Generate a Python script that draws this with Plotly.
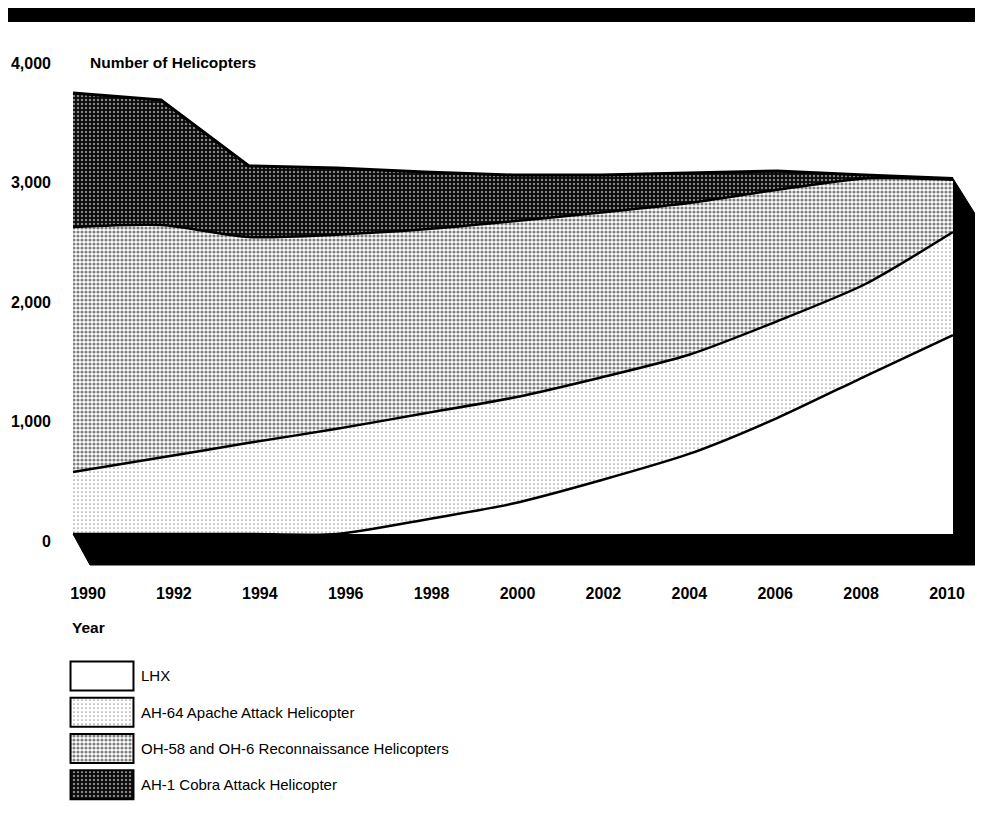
import plotly.graph_objects as go

# ---------------- data ----------------
years = [1990, 1992, 1994, 1996, 1998, 2000, 2002, 2004, 2006, 2008, 2010]
lhx = [0, 0, 0, 0, 120, 255, 450, 670, 970, 1320, 1665]
ah64 = [519, 640, 763, 880, 890, 885, 860, 830, 810, 770, 862]
oh58 = [2050, 1946, 1722, 1625, 1540, 1477, 1380, 1270, 1100, 885, 438]
ah1 = [1121, 1046, 595, 558, 479, 387, 314, 251, 158, 29, 10]

series_names = ["LHX", "AH-64 Apache Attack Helicopter",
                "OH-58 and OH-6 Reconnaissance Helicopters", "AH-1 Cobra Attack Helicopter"]
y_ticks = [0, 1000, 2000, 3000, 4000]
x_ticks = [1990, 1992, 1994, 1996, 1998, 2000, 2002, 2004, 2006, 2008, 2010]

# ---------------- geometry (page pixels of the 983x835 window) ----------------
W, H = 983, 835
OFF = 8                          # default body margin of the html page
X0_PX, X1_PX = 73, 953           # 1990 and 2010 positions of the data
ZERO_PX = 534                    # y pixel of value 0
PPU = 0.1195                     # pixels per unit (119.5 px per 1000)
PLOT_TOP_PX, PLOT_BOT_PX = 30, 620
ppy = (X1_PX - X0_PX) / (years[-1] - years[0])

def py(px):  # page pixel y -> paper y
    return 1 - (px - OFF) / H

def pxx(px):  # page pixel x -> paper x
    return (px - OFF) / W

x_range = [years[0] - (X0_PX - OFF) / ppy, years[0] + (W + OFF - X0_PX) / ppy]
y_range = [-(PLOT_BOT_PX - ZERO_PX) / PPU, (ZERO_PX - PLOT_TOP_PX) / PPU]

# tick label axis (labels are spaced slightly differently than data in the original)
LBL0_PX, LBL1_PX = 88, 947
lpy = (LBL1_PX - LBL0_PX) / (x_ticks[-1] - x_ticks[0])
x2_range = [x_ticks[0] - (LBL0_PX - OFF) / lpy, x_ticks[0] + (W + OFF - LBL0_PX) / lpy]

patterns = [
    None,
    dict(shape=".", fgcolor="#3a3a3a", bgcolor="white", size=4, solidity=0.14),
    dict(shape=".", fgcolor="black", bgcolor="white", size=4, solidity=0.5),
    dict(shape=".", fgcolor="white", bgcolor="#0a0a0a", size=4, solidity=0.3),
]

fig = go.Figure()

# ---- 3D black "extrusion" (floor and right side) derived from the data ----
totals = [a + b + c + d for a, b, c, d in zip(lhx, ah64, oh58, ah1)]
dxl = 17 / ppy
dxr = 25 / ppy
dyf = 31 / PPU
dyr = 40 / PPU
sx = [years[0], years[0] + dxl, years[-1] + dxr, years[-1] + dxr, years[-1], years[-1], years[0]]
sy = [0, -dyf, -dyf, totals[-1] - dyr, totals[-1], 0, 0]
fig.add_trace(go.Scatter(x=sx, y=sy, fill="toself", fillcolor="black", mode="lines",
                         line=dict(color="black", width=1), showlegend=False, hoverinfo="skip"))

# ---- stacked areas ----
vals = [lhx, ah64, oh58, ah1]
for i, (name, v) in enumerate(zip(series_names, vals)):
    kw = {}
    if patterns[i] is None:
        kw["fillcolor"] = "white"
    else:
        kw["fillpattern"] = patterns[i]
    shape = "linear" if i == 3 else "spline"
    fig.add_trace(go.Scatter(
        x=years, y=v, name=name, stackgroup="one", mode="lines",
        line=dict(color="black", width=3 if i == 3 else 2.5, shape=shape, smoothing=0.7),
        showlegend=False, hoverinfo="skip", **kw))

# dummy trace to activate the label axis
fig.add_trace(go.Scatter(x=[x_ticks[0], x_ticks[-1]], y=[None, None], xaxis="x2",
                         showlegend=False, hoverinfo="skip", mode="markers"))

# ---- custom legend built from a bar trace ----
fig.add_trace(go.Bar(
    x=[1, 1, 1, 1], y=series_names, orientation="h", xaxis="x3", yaxis="y3",
    width=0.8, showlegend=False, hoverinfo="skip",
    marker=dict(
        color="white",
        line=dict(color="black", width=2),
        pattern=dict(
            shape=["", ".", ".", "."],
            fgcolor=["black", "#3a3a3a", "black", "white"],
            bgcolor=["white", "white", "white", "#0a0a0a"],
            size=4,
            solidity=[0.0, 0.14, 0.5, 0.3],
        ),
    ),
))

BOLD = "Liberation Sans, Arial, Helvetica, sans-serif"
fig.update_layout(
    width=W, height=H,
    margin=dict(l=0, r=0, t=0, b=0),
    paper_bgcolor="white", plot_bgcolor="rgba(0,0,0,0)",
    font=dict(family=BOLD, color="black"),
    showlegend=False,
    xaxis=dict(domain=[0, 1], range=x_range, visible=False, fixedrange=True),
    yaxis=dict(domain=[py(PLOT_BOT_PX), py(PLOT_TOP_PX)], range=y_range,
               tickvals=y_ticks, tickformat=",d", showgrid=False, zeroline=False,
               showline=False, ticks="", ticklabelstandoff=-(52 - OFF), ticklabelshift=7,
               tickfont=dict(size=16, family=BOLD, weight="bold", color="black")),
    xaxis2=dict(overlaying="x", range=x2_range, anchor="free", position=py(582),
                tickvals=x_ticks, showgrid=False, zeroline=False, showline=False,
                ticks="", tickfont=dict(size=16, family=BOLD, weight="bold", color="black")),
    xaxis3=dict(domain=[pxx(68), pxx(136)], range=[-0.04, 1.04], visible=False,
                anchor="y3"),
    yaxis3=dict(domain=[py(803), py(658)], range=[3.5, -0.5], anchor="x3",
                side="right", showgrid=False, zeroline=False, showline=False, ticks="",
                ticklabelstandoff=4,
                tickfont=dict(size=15, family="Liberation Sans, Arial, sans-serif",
                              color="black")),
    shapes=[dict(type="rect", xref="paper", yref="paper",
                 x0=pxx(8), x1=pxx(977), y0=py(22), y1=py(5),
                 fillcolor="black", line=dict(width=0))],
    annotations=[
        dict(text="<b>Number of Helicopters</b>", xref="paper", yref="paper",
             x=pxx(88), y=py(62), xanchor="left", yanchor="middle", showarrow=False,
             font=dict(size=15.5, family=BOLD, color="black")),
        dict(text="<b>Year</b>", xref="paper", yref="paper",
             x=pxx(70), y=py(627), xanchor="left", yanchor="middle", showarrow=False,
             font=dict(size=15.5, family=BOLD, color="black")),
    ],
)

fig.write_html("out.html")
